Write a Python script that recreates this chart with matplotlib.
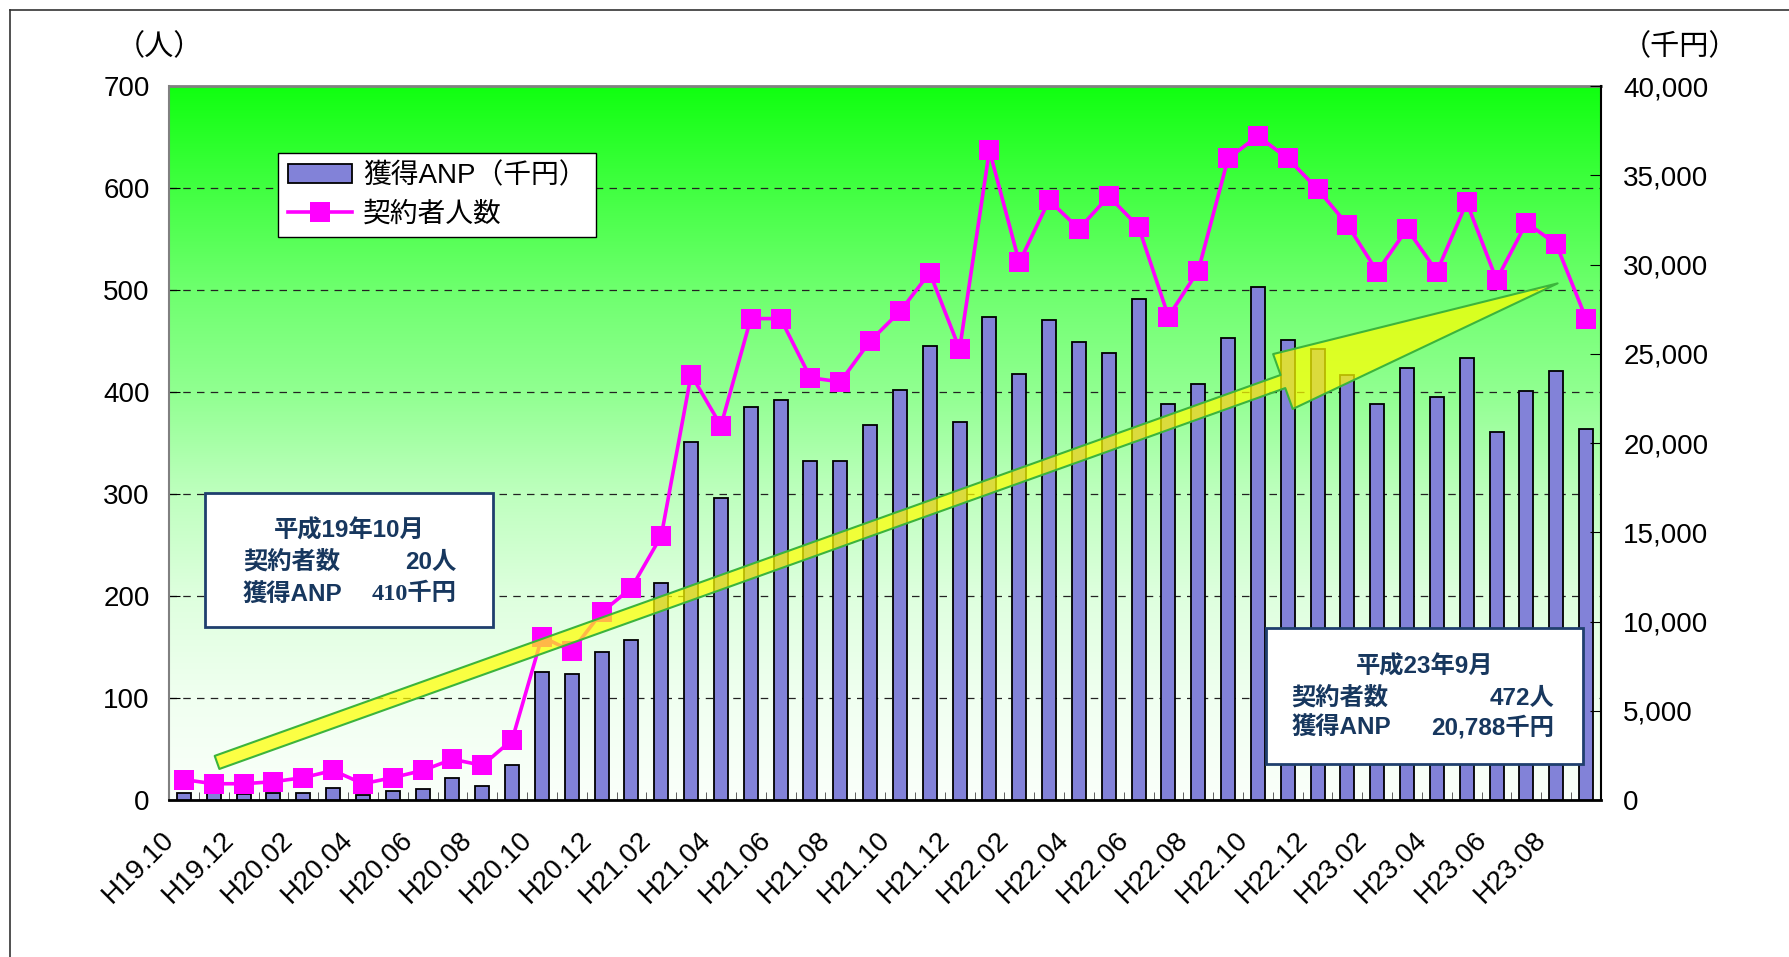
import numpy as np
import matplotlib
matplotlib.use('Agg')
import matplotlib.pyplot as plt
from matplotlib.patches import FancyArrowPatch, Rectangle, ArrowStyle
from matplotlib.lines import Line2D
from matplotlib.ticker import FuncFormatter, MultipleLocator
from matplotlib.transforms import ScaledTranslation

plt.rcParams['font.family'] = ['Liberation Sans', 'Noto Sans CJK JP']

# --- data ---
months = ['H19.10', 'H19.11', 'H19.12',
          'H20.01', 'H20.02', 'H20.03', 'H20.04', 'H20.05', 'H20.06',
          'H20.07', 'H20.08', 'H20.09', 'H20.10', 'H20.11', 'H20.12',
          'H21.01', 'H21.02', 'H21.03', 'H21.04', 'H21.05', 'H21.06',
          'H21.07', 'H21.08', 'H21.09', 'H21.10', 'H21.11', 'H21.12',
          'H22.01', 'H22.02', 'H22.03', 'H22.04', 'H22.05', 'H22.06',
          'H22.07', 'H22.08', 'H22.09', 'H22.10', 'H22.11', 'H22.12',
          'H23.01', 'H23.02', 'H23.03', 'H23.04', 'H23.05', 'H23.06',
          'H23.07', 'H23.08', 'H23.09']
tick_labels = months[::2]

# 獲得ANP (千円), right axis
anp = [410, 370, 360, 410, 410, 650, 280, 520, 630, 1260, 780, 1960,
       7180, 7070, 8270, 8950, 12150, 20060, 16920, 22020, 22400, 18980, 18980, 21030,
       22990, 25430, 21170, 27040, 23850, 26900, 25680, 25060, 28060, 22160, 23300, 25900,
       28760, 25770, 25280, 23800, 22210, 24180, 22560, 24780, 20620, 22940, 24030, 20788]
# 契約者人数 (人), left axis
persons = [20, 16, 16, 18, 22, 29, 16, 22, 29, 40, 34, 59,
           160, 146, 184, 208, 259, 417, 367, 472, 472, 414, 410, 450,
           479, 517, 442, 637, 527, 588, 560, 592, 562, 474, 519, 629,
           651, 629, 599, 564, 518, 560, 518, 586, 510, 566, 545, 472]

NAVY = '#17375E'
fig = plt.figure(figsize=(17.89, 9.57), dpi=100)
ax = fig.add_axes([0.0945, 0.164, 0.8004, 0.7461])

# background gradient (bright green -> white)
t = np.linspace(0, 1, 256)
v = np.interp(t, [0, 0.143, 0.286, 0.43, 0.571, 0.714, 0.857, 1.0],
              [16, 65, 110, 145, 190, 222, 240, 250]) / 255.0
grad = np.stack([v, np.ones_like(v), v], axis=-1)[:, None, :]
ax.imshow(grad, extent=(0, 1, 0, 1), transform=ax.transAxes, aspect='auto', zorder=0)

x = np.arange(len(months))
ax.set_xlim(-0.5, len(months) - 0.5)
ax.set_ylim(0, 700)
ax.yaxis.set_major_locator(MultipleLocator(100))
ax.set_axisbelow(True)
ax.yaxis.grid(True, linestyle=(0, (6, 5)), color='#222222', lw=0.9)
ax.tick_params(axis='y', direction='in', length=8, pad=14, labelsize=20)
ax.set_xticks(x[::2])
ax.set_xticklabels(tick_labels, rotation=45, ha='right', va='center', rotation_mode='anchor')
ax.tick_params(axis='x', which='major', length=0, pad=26, labelsize=20)
ax.xaxis.set_minor_locator(MultipleLocator(1, 0.5))
ax.tick_params(axis='x', which='minor', direction='in', length=6, color='#444444')
for lbl in ax.get_xticklabels():
    lbl.set_transform(lbl.get_transform() + ScaledTranslation(-10 / 72, 0, fig.dpi_scale_trans))
ax.spines['left'].set_color('#808080')
ax.spines['left'].set_linewidth(1.5)
ax.spines['top'].set_color('#808080')
ax.spines['top'].set_linewidth(2)
ax.spines['bottom'].set_linewidth(2)
ax.spines['right'].set_visible(False)

# bars on the right axis
ax2 = ax.twinx()
bars = ax2.bar(x, anp, width=0.47, color='#8282D8', edgecolor='black', linewidth=1.3,
               label='獲得ANP（千円）')
ax2.set_ylim(0, 40000)
ax2.yaxis.set_major_locator(MultipleLocator(5000))
ax2.yaxis.set_major_formatter(FuncFormatter(lambda val, pos: '{:,}'.format(int(val))))
ax2.tick_params(axis='y', direction='in', length=8, pad=16, labelsize=20)
for side in ['top', 'left', 'bottom']:
    ax2.spines[side].set_visible(False)
ax2.spines['right'].set_linewidth(1.5)

# line on top, left scale
ax3 = ax.twinx()
ax3.set_ylim(0, 700)
ax3.set_axis_off()
line, = ax3.plot(x, persons, color='#FF00FF', lw=2.6, marker='s', markersize=15,
                 markeredgewidth=0, label='契約者人数')

arrow = FancyArrowPatch(posA=(0.0335, 0.0527), posB=(0.9697, 0.7236), transform=ax3.transAxes,
                        arrowstyle=ArrowStyle.Simple(head_length=21, head_width=4.2, tail_width=1.0),
                        mutation_scale=10, facecolor=(1, 1, 0, 0.72), edgecolor='#3CB43C',
                        lw=1.5, shrinkA=0, shrinkB=0, zorder=5)
ax3.add_patch(arrow)

leg = ax3.legend([bars, line], ['獲得ANP（千円）', '契約者人数'], loc='upper left',
                 bbox_to_anchor=(0.1556, 0.8403), bbox_transform=fig.transFigure,
                 fontsize=20, fancybox=False, edgecolor='black', framealpha=1,
                 borderaxespad=0, borderpad=0.35, handlelength=2.3, handletextpad=0.4,
                 labelspacing=0.45)
leg.get_frame().set_linewidth(1.0)

# unit labels
fig.text(0.0893, 0.951, '（人）', ha='center', va='center', fontsize=21)
fig.text(0.939, 0.951, '（千円）', ha='center', va='center', fontsize=21)

# info boxes
def info_box(l, r, b, tp, title, left_rows, right_rows, ty, rows_y, lx, rx, serif_first=False):
    fig.add_artist(Rectangle((l, b), r - l, tp - b, transform=fig.transFigure,
                             facecolor='white', edgecolor='#1F3F6E', lw=2, zorder=5))
    kw = dict(color=NAVY, fontsize=17.5, fontweight='bold', va='center', zorder=6)
    fig.text((l + r) / 2, ty, title, ha='center', **kw)
    for i, (a, c) in enumerate(zip(left_rows, right_rows)):
        fig.text(lx, rows_y[i], a, ha='left', **kw)
        fam = ['Liberation Sans', 'Noto Sans CJK JP']
        if serif_first and i == 1:
            fam = ['Liberation Serif', 'Noto Sans CJK JP']
        fig.text(rx, rows_y[i], c, ha='right', family=fam, **kw)

info_box(0.1148, 0.2755, 0.3445, 0.4851, '平成19年10月',
         ['契約者数', '獲得ANP'], ['20人', '410千円'],
         0.4458, [0.4124, 0.379], 0.1358, 0.2551, serif_first=True)
info_box(0.7079, 0.8846, 0.2014, 0.3433, '平成23年9月',
         ['契約者数', '獲得ANP'], ['472人', '20,788千円'],
         0.3027, [0.2706, 0.2396], 0.7219, 0.8686)

# outer frame (left and top edges visible)
fig.add_artist(Line2D([10 / 1789, 10 / 1789], [0, 1 - 10 / 957], transform=fig.transFigure,
                      color='#333333', lw=1.2))
fig.add_artist(Line2D([10 / 1789, 1], [1 - 10 / 957, 1 - 10 / 957], transform=fig.transFigure,
                      color='#333333', lw=1.2))

fig.savefig('out.png', dpi=100)
